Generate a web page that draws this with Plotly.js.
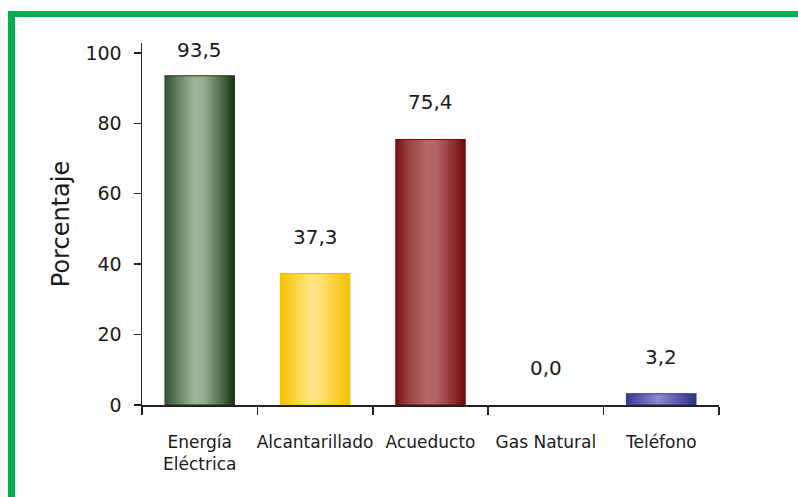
<!DOCTYPE html>
<html>
<head>
<meta charset="utf-8">
<script src="https://cdn.plot.ly/plotly-3.0.1.min.js"></script>
<style>
  html, body { margin: 0; padding: 0; background: #fff; }
  #wrap { position: relative; width: 798px; height: 497px; overflow: hidden; }
  #chart { width: 798px; height: 497px; }
  #frame { position: absolute; left: 8px; top: 11px; right: -10px; bottom: -10px;
           border-top: 6px solid #00b050; border-left: 7px solid #00b050; pointer-events: none; }
</style>
</head>
<body>
<div id="wrap">
  <div id="chart"></div>
  <div id="frame"></div>
</div>
<script>
// ---- data ----
const categories = ["Energía<br>Eléctrica", "Alcantarillado", "Acueducto", "Gas Natural", "Teléfono"];
const values = [93.5, 37.3, 75.4, 0.0, 3.2];
const yTickVals = [0, 20, 40, 60, 80, 100];
const yTitle = "Porcentaje";

// ---- styles ----
const edgeColors = ["#1f3b1a", "#f2c200", "#7a0808", "#2e2e8c", "#2e2e8c"];
const gradients = [
  [[0, "#34503a"], [0.18, "#62805e"], [0.42, "#9eb39a"], [0.55, "#98ae93"], [0.82, "#4c6a47"], [1, "#16340f"]],
  [[0, "#f6c300"], [0.45, "#ffe688"], [0.55, "#ffe27a"], [1, "#f4c000"]],
  [[0, "#7a1212"], [0.2, "#9c4444"], [0.45, "#b76868"], [0.6, "#b36262"], [0.85, "#8f2a2a"], [1, "#720505"]],
  [[0, "#3a3a9a"], [0.45, "#8a8acb"], [1, "#2f2f8f"]],
  [[0, "#3a3a9a"], [0.45, "#8a8acb"], [1, "#2f2f8f"]]
];
const baseFont = "DejaVu Sans, Arial, sans-serif";

const trace = {
  type: "bar",
  x: categories,
  y: values,
  width: 0.6,
  marker: {
    color: gradients.map(g => g[2][1]),
    line: { color: edgeColors, width: values.map(v => v > 0 ? 1.2 : 0) }
  },
  hoverinfo: "none"
};

const annotations = categories.map((c, i) => ({
  x: c, y: values[i], xref: "x", yref: "y",
  text: values[i].toFixed(1).replace(".", ","),
  showarrow: false, yanchor: "bottom",
  yshift: values[i] > 90 ? 12 : 23,
  font: { family: baseFont, size: 20, color: "#1a1a1a" }
}));

const layout = {
  width: 798, height: 497,
  margin: { l: 142, r: 79, t: 43, b: 92, pad: 0 },
  paper_bgcolor: "#ffffff", plot_bgcolor: "#ffffff",
  showlegend: false,
  separators: ",.",
  xaxis: {
    type: "category",
    tickson: "boundaries",
    tickangle: 0,
    ticks: "outside", ticklen: 8, tickwidth: 1.5, tickcolor: "#222",
    showline: true, linecolor: "#222", linewidth: 1.5,
    showgrid: false, zeroline: false,
    ticklabelstandoff: 21,
    tickfont: { family: baseFont, size: 17, color: "#1a1a1a" },
    fixedrange: true
  },
  yaxis: {
    range: [0, 102.8],
    tickvals: yTickVals,
    ticks: "outside", ticklen: 7, tickwidth: 1.5, tickcolor: "#222",
    showline: true, linecolor: "#222", linewidth: 1.5,
    showgrid: false, zeroline: false,
    ticklabelstandoff: 8,
    tickfont: { family: baseFont, size: 19, color: "#1a1a1a" },
    title: { text: yTitle, standoff: 9, font: { family: baseFont, size: 24, color: "#1a1a1a" } },
    fixedrange: true
  },
  annotations: annotations
};

Plotly.newPlot("chart", [trace], layout, { displayModeBar: false, staticPlot: true }).then(gd => {
  // horizontal gradient fills on the bars drawn by Plotly
  const svg = gd.querySelector("svg.main-svg");
  const ns = "http://www.w3.org/2000/svg";
  let defs = svg.querySelector("defs");
  if (!defs) { defs = document.createElementNS(ns, "defs"); svg.insertBefore(defs, svg.firstChild); }
  gradients.forEach((stops, i) => {
    const lg = document.createElementNS(ns, "linearGradient");
    lg.setAttribute("id", "barGrad" + i);
    lg.setAttribute("x1", "0"); lg.setAttribute("x2", "1");
    lg.setAttribute("y1", "0"); lg.setAttribute("y2", "0");
    stops.forEach(([o, c]) => {
      const s = document.createElementNS(ns, "stop");
      s.setAttribute("offset", o);
      s.setAttribute("stop-color", c);
      lg.appendChild(s);
    });
    defs.appendChild(lg);
  });
  gd.querySelectorAll(".barlayer .point path").forEach((p, i) => {
    p.style.fill = "url(#barGrad" + i + ")";
  });
});
</script>
</body>
</html>
